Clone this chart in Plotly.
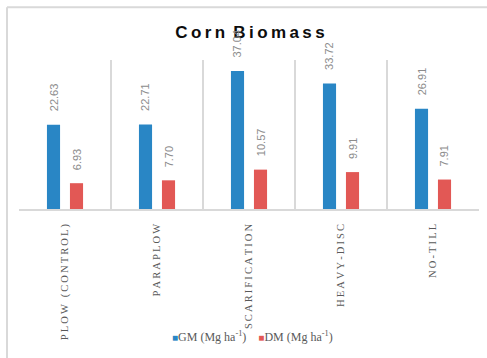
import plotly.graph_objects as go

# Tillage treatments and corn biomass (Mg ha-1)
categories = ["PLOW (CONTROL)", "PARAPLOW", "SCARIFICATION", "HEAVY-DISC", "NO-TILL"]
gm_values = [22.63, 22.71, 37.04, 33.72, 26.91]
dm_values = [6.93, 7.70, 10.57, 9.91, 7.91]
series_names = ["GM (Mg ha<sup>-1</sup>)", "DM (Mg ha<sup>-1</sup>)"]
title_words = ["Corn", "Biomass"]

BLUE = "#2986C5"
RED = "#E25855"
GRID = "#D9D9D9"

THIN = "\u2009"


def spaced(s, sep=THIN):
    return sep.join(s)


W, H = 487, 358
L, R, T, B = 19, 8, 60, 148.5
plot_w = W - L - R
plot_h = H - T - B

fig = go.Figure()
fig.add_trace(go.Bar(x=categories, y=gm_values, name=series_names[0],
                     marker=dict(color=BLUE, line=dict(width=0))))
fig.add_trace(go.Bar(x=categories, y=dm_values, name=series_names[1],
                     marker=dict(color=RED, line=dict(width=0))))

# Rotated value labels above each bar
slot_px = plot_w / len(categories) * 0.5 / 2
for vals, shift in ((gm_values, -slot_px / 2), (dm_values, slot_px / 2)):
    for c, v in zip(categories, vals):
        fig.add_annotation(x=c, y=v, text=f"{v:.2f}", textangle=-90,
                           showarrow=False, xanchor="center", yanchor="bottom",
                           xshift=shift, yshift=11,
                           font=dict(family="Liberation Sans, Arial", size=11, color="#8C8C8C"))


def px_to_paper_x(px):
    return (px - L) / plot_w


def px_to_paper_y(py):
    return (H - B - py) / plot_h


# Outer frame (top and left edges)
fig.add_shape(type="line", xref="paper", yref="paper",
              x0=px_to_paper_x(7), x1=px_to_paper_x(W + 2),
              y0=px_to_paper_y(7), y1=px_to_paper_y(7),
              line=dict(color=GRID, width=2))
fig.add_shape(type="line", xref="paper", yref="paper",
              x0=px_to_paper_x(7), x1=px_to_paper_x(7),
              y0=px_to_paper_y(7), y1=px_to_paper_y(H + 2),
              line=dict(color=GRID, width=2))

# Legend: small colour squares followed by the series names
legend_text = (f"<span style='color:{BLUE};font-size:10px'>■</span>{series_names[0]}"
               f"&nbsp;&nbsp;&nbsp;&nbsp;"
               f"<span style='color:{RED};font-size:10px'>■</span>{series_names[1]}")
fig.add_annotation(xref="paper", yref="paper", x=px_to_paper_x(252.5), y=px_to_paper_y(337),
                   xanchor="center", yanchor="middle", showarrow=False, text=legend_text,
                   font=dict(family="Liberation Serif, Times New Roman", size=12, color="#595959"))

fig.update_layout(
    width=W, height=H,
    margin=dict(l=L, r=R, t=T, b=B),
    paper_bgcolor="white", plot_bgcolor="white",
    barmode="group", bargap=0.5, bargroupgap=0.43,
    title=dict(text=spaced(title_words[0]) + THIN + " " + spaced(title_words[1]),
               x=250 / W, xanchor="center",
               y=1 - 32 / H, yanchor="middle",
               font=dict(family="Liberation Sans, Arial", size=17, color="#0D0D0D",
                         weight="bold")),
    showlegend=False,
    xaxis=dict(type="category", range=[-0.5, 4.5], tickson="boundaries",
               automargin=False,
               showgrid=True, gridcolor=GRID, gridwidth=1.5,
               showline=True, linecolor=GRID, linewidth=1.5,
               ticks="", tickangle=-90, ticklabelstandoff=9,
               tickmode="array", tickvals=categories,
               ticktext=[spaced(c) for c in categories],
               tickfont=dict(family="Liberation Serif, Times New Roman", size=10.5, color="#595959")),
    yaxis=dict(range=[0, 40], visible=False, showgrid=False, zeroline=False),
)

fig.write_html("out.html")
